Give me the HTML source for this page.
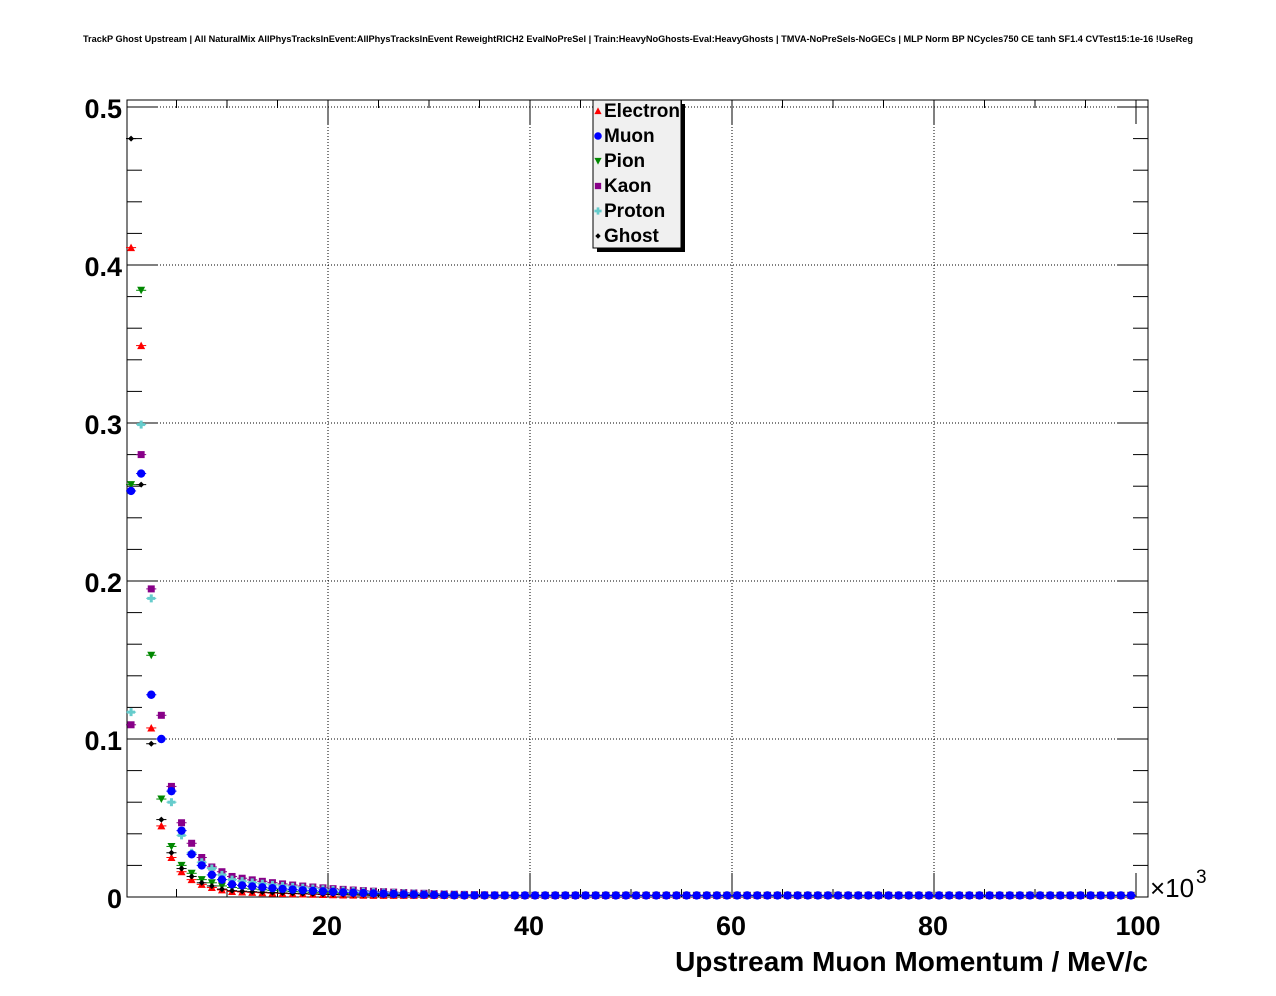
<!DOCTYPE html>
<html><head><meta charset="utf-8"><style>
body{margin:0;background:#fff;}
svg{display:block;font-family:"Liberation Sans",sans-serif;font-weight:bold;}
</style></head><body>
<svg id="s" width="1276" height="996" xmlns="http://www.w3.org/2000/svg">
<rect width="1276" height="996" fill="#fff"/>
<text x="638" y="42" font-size="9.2" text-anchor="middle">TrackP Ghost Upstream | All NaturalMix AllPhysTracksInEvent:AllPhysTracksInEvent ReweightRICH2 EvalNoPreSel | Train:HeavyNoGhosts-Eval:HeavyGhosts | TMVA-NoPreSels-NoGECs | MLP Norm BP NCycles750 CE tanh SF1.4 CVTest15:1e-16 !UseReg</text>
<g id="grid" stroke="#000" stroke-width="1" stroke-dasharray="1,2"></g>
<g id="ticks" stroke="#000" stroke-width="1"></g>
<rect x="127" y="100" width="1021" height="797" fill="none" stroke="#000" stroke-width="1"/>
<g id="pts"></g>
<g font-size="27" text-anchor="end">
<text x="122" y="118">0.5</text><text x="122" y="276">0.4</text><text x="122" y="434">0.3</text>
<text x="122" y="592">0.2</text><text x="122" y="750">0.1</text><text x="122" y="908">0</text>
</g>
<g font-size="27" text-anchor="middle">
<text x="327" y="935">20</text><text x="529" y="935">40</text><text x="731" y="935">60</text><text x="933" y="935">80</text><text x="1138" y="935">100</text>
</g>
<text x="1150" y="897" font-size="26" font-weight="normal">×10</text><text x="1196" y="883" font-size="19" font-weight="normal">3</text>
<text x="1148" y="971" font-size="28" text-anchor="end">Upstream Muon Momentum / MeV/c</text>
<rect x="597" y="104" width="88" height="148" fill="#000"/>
<rect x="593" y="100" width="88" height="148" fill="#f0f0f0" stroke="#000" stroke-width="1"/>
<g font-size="19">
<text x="604" y="117">Electron</text><text x="604" y="142">Muon</text><text x="604" y="167">Pion</text>
<text x="604" y="192">Kaon</text><text x="604" y="217">Proton</text><text x="604" y="242">Ghost</text>
</g>
<g id="leg"></g>
</svg>
<script>
var NS="http://www.w3.org/2000/svg";
function el(p,t,a){var e=document.createElementNS(NS,t);for(var k in a)e.setAttribute(k,a[k]);p.appendChild(e);return e;}
var X=function(v){return 126+10.1*v;},Y=function(v){return 897-1580*v;};
var g=document.getElementById('grid'),tk=document.getElementById('ticks');
for(var v=20;v<=80;v+=20)el(g,'line',{x1:X(v),x2:X(v),y1:100,y2:897});
for(var v=0.1;v<0.55;v+=0.1)el(g,'line',{x1:127,x2:1148,y1:Y(v),y2:Y(v)});
for(var i=0;i<=25;i++){var yy=Y(i*0.02);if(yy<100)break;var L=(i%5==0)?30:15;
el(tk,'line',{x1:127,x2:127+L,y1:yy,y2:yy});el(tk,'line',{x1:1148-L,x2:1148,y1:yy,y2:yy});}
for(var v=5;v<=100;v+=5){var L=(v%20==0)?24:8;
el(tk,'line',{x1:X(v),x2:X(v),y1:897-L,y2:897});el(tk,'line',{x1:X(v),x2:X(v),y1:100,y2:100+L});}
var S={
e:{c:'#ff0000',m:'tu',d:[0.411,0.349,0.107,0.045,0.025,0.016,0.011,0.008,0.006,0.0045,0.0035]},
p:{c:'#008800',m:'td',d:[0.261,0.384,0.153,0.062,0.032,0.020,0.015,0.011,0.009,0.007,0.006]},
k:{c:'#880088',m:'sq',d:[0.109,0.280,0.195,0.115,0.070,0.047,0.034,0.025,0.019,0.016,0.013]},
r:{c:'#66cccc',m:'cr',d:[0.117,0.299,0.189,0.100,0.060,0.039,0.028,0.022,0.018,0.014,0.011]},
g:{c:'#000000',m:'dm',d:[0.480,0.261,0.097,0.049,0.028,0.018,0.013,0.009,0.007,0.005,0.004]},
u:{c:'#0000ff',m:'ci',d:[0.257,0.268,0.128,0.100,0.067,0.042,0.027,0.020,0.014,0.011,0.008]}};
function mk(p,m,c,x,y,s){s=s||1;
if(m=='tu')el(p,'polygon',{points:(x-4*s)+','+(y+3.5*s)+' '+(x+4*s)+','+(y+3.5*s)+' '+x+','+(y-4*s),fill:c});
else if(m=='td')el(p,'polygon',{points:(x-4*s)+','+(y-3.5*s)+' '+(x+4*s)+','+(y-3.5*s)+' '+x+','+(y+4*s),fill:c});
else if(m=='sq')el(p,'rect',{x:x-3.5*s,y:y-3.5*s,width:7*s,height:7*s,fill:c});
else if(m=='ci')el(p,'circle',{cx:x,cy:y,r:4.2*s,fill:c});
else if(m=='cr'){el(p,'rect',{x:x-4*s,y:y-1.5*s,width:8*s,height:3*s,fill:c});el(p,'rect',{x:x-1.5*s,y:y-4*s,width:3*s,height:8*s,fill:c});}
else if(m=='dm')el(p,'polygon',{points:(x-3*s)+','+y+' '+x+','+(y-3*s)+' '+(x+3*s)+','+y+' '+x+','+(y+3*s),fill:c});}
var P=document.getElementById('pts');
['e','p','k','r','g','u'].forEach(function(k){var s=S[k],d=s.d;
for(var i=0;i<100;i++){var v;if(i<d.length)v=d[i];else{v=d[d.length-1]*Math.exp(-(i-d.length+1)*0.09);v=Math.max(v,0.001);}
var x=X(i+0.5),y=Y(v);
el(P,'line',{x1:X(i),x2:X(i+1),y1:y,y2:y,stroke:s.c,'stroke-width':1});
mk(P,s.m,s.c,x,y);}});
var Lg=document.getElementById('leg');
[['e',111],['u',136],['p',161],['k',186],['r',211],['g',236]].forEach(function(a){mk(Lg,S[a[0]].m,S[a[0]].c,598,a[1],0.9);});
</script>
</body></html>
